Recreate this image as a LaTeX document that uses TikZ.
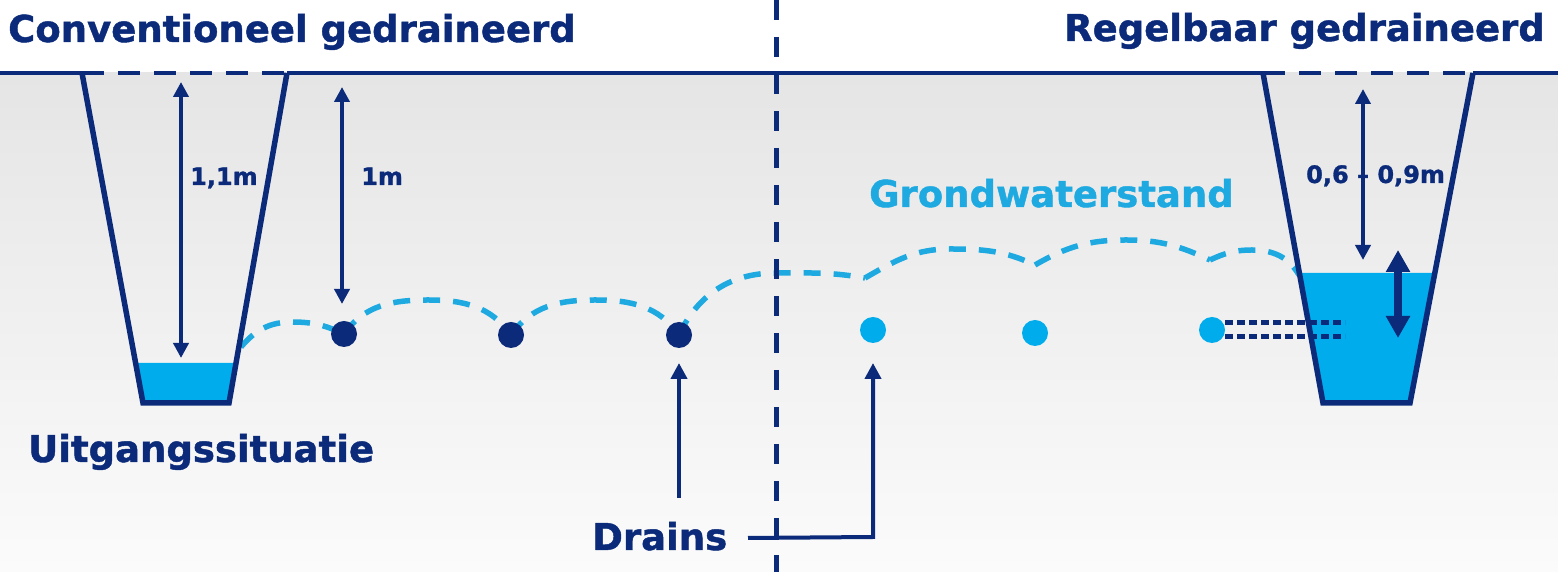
\documentclass[tikz,border=0pt]{standalone}
\usepackage{fontspec}
\setmainfont{DejaVu Sans}[BoldFeatures={FakeBold=1.2}]
\usetikzlibrary{arrows.meta,calc}
\definecolor{navy}{RGB}{11,43,122}
\definecolor{water}{RGB}{0,172,236}
\definecolor{gwc}{RGB}{30,170,225}
\definecolor{bgtop}{RGB}{229,229,230}
\definecolor{bgbot}{RGB}{251,251,251}
\tikzset{
  bigtxt/.style={inner sep=0pt, font=\fontsize{37}{40}\selectfont\bfseries, text=navy},
  smalltxt/.style={inner sep=0pt, font=\fontsize{24}{26}\selectfont\bfseries, text=navy},
  ground/.style={navy, line width=4.5pt},
  grounddash/.style={navy, line width=4.5pt, dash pattern=on 22pt off 14pt},
  wall/.style={navy, line width=5.5pt, line join=miter},
  gw/.style={gwc, line width=5.5pt, dash pattern=on 17pt off 13pt},
  dimarrow/.style={navy, line width=4pt, {Triangle[length=15pt,width=15pt]}-{Triangle[length=15pt,width=15pt]}},
  bigarrow/.style={navy, line width=8.5pt, {Triangle[length=22pt,width=23pt]}-{Triangle[length=22pt,width=23pt]}},
  ptr/.style={navy, line width=4pt, -{Triangle[length=16pt,width=16pt]}},
  draindark/.style={circle, fill=navy, minimum size=26pt, inner sep=0pt},
  drainlight/.style={circle, fill=water, minimum size=26pt, inner sep=0pt},
  pipe/.style={navy, line width=5pt, dash pattern=on 8pt off 4pt},
}
\begin{document}
\begin{tikzpicture}[x=1pt,y=1pt]
\useasboundingbox (0,0) rectangle (1558,572);
\fill[white] (0,0) rectangle (1558,572);
\shade[top color=bgtop, bottom color=bgbot] (0,0) rectangle (1558,499);

% ditch corners
\coordinate (LTL) at (82,499);
\coordinate (LBL) at (143,169);
\coordinate (LBR) at (229,169);
\coordinate (LTR) at (287,499);
\coordinate (RTL) at (1263,499);
\coordinate (RBL) at (1323,169);
\coordinate (RBR) at (1410,169);
\coordinate (RTR) at (1473,499);

% water
\fill[water] ($(LBL)!0.1212!(LTL)$) -- (LBL) -- (LBR) -- ($(LBR)!0.1212!(LTR)$) -- cycle;
\fill[water] ($(RBL)!0.394!(RTL)$) -- (RBL) -- (RBR) -- ($(RBR)!0.394!(RTR)$) -- cycle;

% groundwater level
\draw[gw] (241,225) to[out=50,in=180] (292,250) to[out=0,in=155] (344,238);
\draw[gw] (344,238) to[out=55,in=180] (428,272) to[out=0,in=125] (511,237);
\draw[gw] (511,237) to[out=55,in=180] (595,272) to[out=0,in=125] (679,237);
\draw[gw] (679,237) to[out=65,in=180] (776,299) to[out=0,in=170] (865,294);
\draw[gw] (865,294) to[out=30,in=180] (950,323) to[out=0,in=155] (1035,307);
\draw[gw] (1035,307) to[out=30,in=180] (1126,332) to[out=0,in=155] (1210,312);
\draw[gw] (1210,312) to[out=25,in=180] (1252,322) to[out=0,in=120] (1299,297);

% ground surface
\draw[ground] (0,499) -- (LTL);
\draw[grounddash] (LTL) -- (LTR);
\draw[ground] (LTR) -- (RTL);
\draw[grounddash] (RTL) -- (RTR);
\draw[ground] (RTR) -- (1558,499);

% ditches
\draw[wall] (LTL) -- (LBL) -- (LBR) -- (LTR);
\draw[wall] (RTL) -- (RBL) -- (RBR) -- (RTR);

% separator
\draw[navy, line width=5pt, dash pattern=on 20pt off 17pt] (776,572) -- (776,0);

% drains
\node[draindark] (d1) at (344,238) {};
\node[draindark] (d2) at (511,237) {};
\node[draindark] (d3) at (679,237) {};
\node[drainlight] (d4) at (873,242) {};
\node[drainlight] (d5) at (1035,239) {};
\node[drainlight] (d6) at (1212,242) {};

% pipe to ditch
\coordinate (p1a) at (1225,249);
\coordinate (p1b) at (1345,249);
\coordinate (p2a) at (1225,235);
\coordinate (p2b) at (1345,235);
\draw[pipe] (p1a) -- (p1b);
\draw[pipe] (p2a) -- (p2b);

% dimension arrows
\coordinate (a1t) at (181,490);
\coordinate (a1b) at (181,214);
\draw[dimarrow] (a1t) -- (a1b);
\coordinate (a2t) at (342,485);
\coordinate (a2b) at (342,268);
\draw[dimarrow] (a2t) -- (a2b);
\coordinate (a3t) at (1363,483);
\coordinate (a3b) at (1363,312);
\draw[dimarrow] (a3t) -- (a3b);
\coordinate (a4t) at (1398,322);
\coordinate (a4b) at (1398,234);
\draw[bigarrow] (a4t) -- (a4b);

\node[smalltxt, anchor=base west] (l11) at (190,387) {1,1m};
\node[smalltxt, anchor=base west] (l1) at (361,387) {1m};
\node[smalltxt, anchor=base west] (l69) at (1306,389) {0,6 – 0,9m};

% texts
\node[bigtxt, anchor=base west] (t1) at (8,530) {Conventioneel gedraineerd};
\node[bigtxt, anchor=base east] (t2) at (1545,531) {Regelbaar gedraineerd};
\node[bigtxt, anchor=base west] (t3) at (28,110) {Uitgangssituatie};
\node[bigtxt, anchor=base west, text=gwc] (t4) at (869,365) {Grondwaterstand};
\node[bigtxt, anchor=base west] (drains) at (592,22) {Drains};

% drain pointers
\coordinate (pA) at (679,74);
\coordinate (pAt) at (679,209);
\draw[ptr] (pA) -- (pAt);
\coordinate (pB) at (748,34);
\coordinate (pBc) at (873,35);
\coordinate (pBt) at (873,209);
\draw[ptr] (pB) -- (pBc) -- (pBt);
\end{tikzpicture}
\end{document}
